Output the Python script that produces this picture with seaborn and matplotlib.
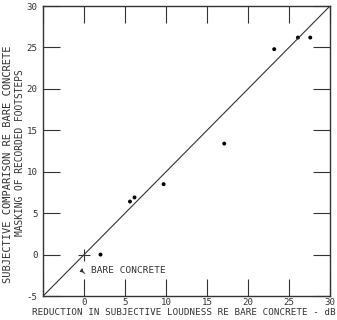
import matplotlib
matplotlib.use("Agg")
import matplotlib.pyplot as plt
import seaborn as sns
import pandas as pd

loudness_reduction = [2.0, 5.6, 6.15, 9.7, 17.1, 23.2, 26.1, 27.6]
subjective_masking = [0.0, 6.4, 6.9, 8.5, 13.4, 24.8, 26.2, 26.2]
reference_line = [-5, 30]
bare_concrete = (0, 0)
ticks = [-5, 0, 5, 10, 15, 20, 25, 30]
xtick_labels = ["", "0", "5", "10", "15", "20", "25", "30"]
ytick_labels = ["-5", "0", "5", "10", "15", "20", "25", "30"]
xlabel = "REDUCTION IN SUBJECTIVE LOUDNESS RE BARE CONCRETE - dB"
ylabel_line1 = "SUBJECTIVE COMPARISON RE BARE CONCRETE"
ylabel_line2 = "MASKING OF RECORDED FOOTSTEPS"

sns.set_style("white")
plt.rcParams['font.family'] = ['DejaVu Sans']
ink = "#333333"
mono = "DejaVu Sans Mono"

df = pd.DataFrame({"x": loudness_reduction, "y": subjective_masking})
ref = pd.DataFrame({"x": reference_line, "y": reference_line})

W, H = 337, 320
fig = plt.figure(figsize=(W / 100, H / 100), dpi=100)
ax = fig.add_axes([0.128, 0.075, 0.851, 0.906])

sns.lineplot(data=ref, x="x", y="y", ax=ax, color=ink, linewidth=0.8)
sns.scatterplot(data=df, x="x", y="y", ax=ax, color="black", s=8, edgecolor="none")
ax.scatter([bare_concrete[0]], [bare_concrete[1]], marker="+", s=70, color=ink, linewidths=0.8)

ax.text(0.8, -1.9, "BARE CONCRETE", fontsize=6.8, color=ink, va="center",
        ha="left", family=mono)
ax.annotate("", xy=(-0.1, -1.3), xytext=(0.4, -2.4),
            arrowprops=dict(arrowstyle="-|>", color=ink, lw=0.7,
                            connectionstyle="arc3,rad=-0.6", mutation_scale=5))

ax.set_xlim(-5, 30)
ax.set_ylim(-5, 30)
ax.set_xticks(ticks)
ax.set_yticks(ticks)
ax.set_xticklabels(xtick_labels, family=mono)
ax.set_yticklabels(ytick_labels, family=mono)
ax.tick_params(direction="in", length=12, width=0.8, color=ink, labelcolor=ink,
               labelsize=6.6, bottom=True, left=True, top=True, right=True)
ax.tick_params(axis="x", pad=1.5)
ax.tick_params(axis="y", pad=4)
for s in ax.spines.values():
    s.set_color(ink)
    s.set_linewidth(1.0)

ax.set_xlabel(xlabel, fontsize=6.7, color=ink, family=mono)
ax.xaxis.set_label_coords(0.491, -0.041)
ax.set_ylabel("")

fig.text(8 / W, 1 - 164 / H, ylabel_line1, rotation=90, ha="center", va="center",
         fontsize=7.5, color=ink, family=mono)
fig.text(20 / W, 1 - 152.5 / H, ylabel_line2, rotation=90, ha="center", va="center",
         fontsize=6.9, color=ink, family=mono)

fig.savefig("out.png", dpi=100)
